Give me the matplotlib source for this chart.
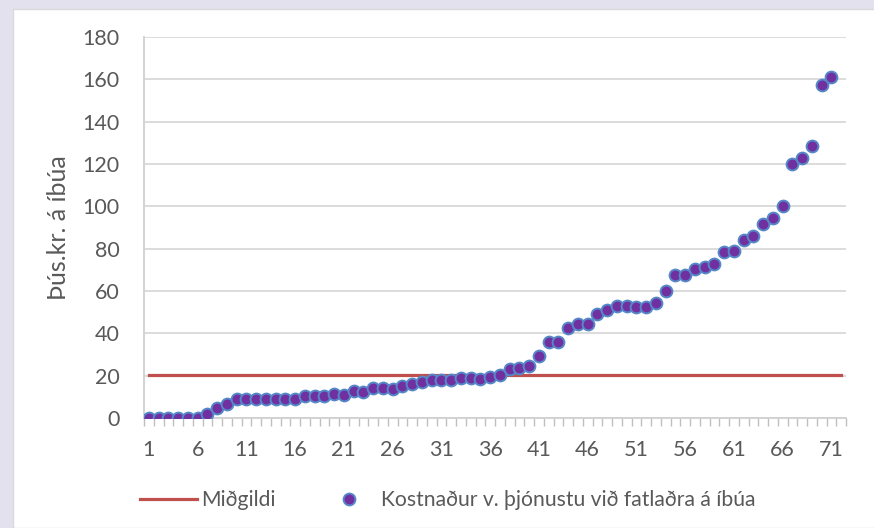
import numpy as np
import matplotlib.pyplot as plt
from matplotlib.patches import Rectangle
from matplotlib.lines import Line2D

plt.rcParams['font.family'] = ['Lato', 'DejaVu Sans']

# Kostnaður á íbúa (þús. kr.), raðað eftir stærð
kostnadur = [0, 0, 0, 0, 0, 0, 1.8, 4.8, 6.8, 8.8,
             9.2, 9.2, 9.2, 9.2, 9.2, 9.1, 10.4, 10.4, 10.4, 11.3,
             11.1, 12.7, 12.4, 14.0, 14.2, 13.9, 14.9, 15.9, 16.8, 17.8,
             17.8, 17.8, 18.7, 18.7, 18.6, 19.5, 20.5, 23.3, 23.8, 24.4,
             29.2, 35.9, 35.9, 42.4, 44.4, 44.4, 49.0, 50.8, 52.8, 52.8,
             52.6, 52.4, 54.3, 60.2, 67.7, 67.4, 70.5, 71.5, 72.6, 78.2,
             79.0, 83.9, 85.8, 91.6, 94.5, 100.0, 120.0, 123.0, 128.7, 157.5,
             161.1]
n_flokkar = 72
midgildi = 20.2
y_ticks = [0, 20, 40, 60, 80, 100, 120, 140, 160, 180]

x = np.arange(1, len(kostnadur) + 1)
x_allt = np.arange(1, n_flokkar + 1)

fs = 15.5
grey = '#595959'
rautt = '#c0504d'
punktur = dict(linestyle='none', marker='o', markersize=8.5, markerfacecolor='#7030a0',
               markeredgecolor='#5588c8', markeredgewidth=1.4)

fig = plt.figure(figsize=(8.74, 5.28), dpi=100)
fig.patch.set_facecolor('#e3e1ee')
# hvítur grunnur undir myndinni
fig.patches.append(Rectangle((13 / 874, 0), 1, 1 - 9 / 528, transform=fig.transFigure,
                             facecolor='white', edgecolor='#d9d9d9', linewidth=1, zorder=-5))

ax = fig.add_axes([144 / 874, 1 - 418 / 528, (846 - 144) / 874, (418 - 37) / 528])
ax.set_facecolor('none')

ax.plot(x_allt, [midgildi] * n_flokkar, color=rautt, linewidth=2.3, zorder=2)
ax.plot(x, kostnadur, zorder=3, **punktur)

ax.set_xlim(0.5, n_flokkar + 0.5)
ax.set_ylim(0, 180)
ax.set_yticks(y_ticks)
ax.grid(axis='y', color='#d9d9d9', linewidth=1.3)
ax.set_axisbelow(True)

ax.set_xticks(np.arange(1, n_flokkar + 1, 5))
ax.set_xticks(np.arange(0.5, n_flokkar + 1), minor=True)
ax.tick_params(axis='x', which='major', length=0, pad=16, labelsize=fs, labelcolor=grey)
ax.tick_params(axis='x', which='minor', length=6, width=1, color='#bfbfbf', direction='out')
ax.tick_params(axis='y', length=0, pad=17.5, labelsize=fs, labelcolor=grey)

for s in ['top', 'right']:
    ax.spines[s].set_visible(False)
for s in ['left', 'bottom']:
    ax.spines[s].set_color('#d0d0d0')
    ax.spines[s].set_linewidth(1.3)

ax.set_ylabel('Þús.kr. á íbúa', fontsize=18, color=grey, labelpad=9)

handles = [Line2D([], [], color=rautt, linewidth=2.3), Line2D([], [], **punktur)]
fig.legend(handles, ['Miðgildi', 'Kostnaður v. þjónustu við fatlaðra á íbúa'],
           loc='center', bbox_to_anchor=(448 / 874, 1 - 500 / 528), ncol=2, frameon=False,
           fontsize=15.2, labelcolor=grey, handlelength=2.7, handletextpad=0.2,
           columnspacing=2.1)

fig.savefig('out.png', dpi=100, facecolor=fig.get_facecolor())
